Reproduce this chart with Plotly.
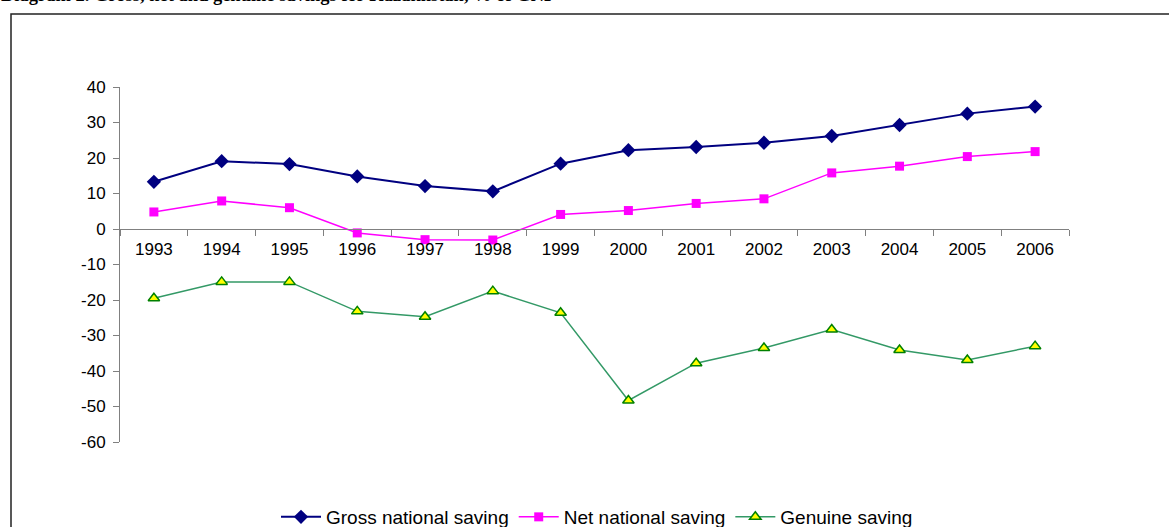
import plotly.graph_objects as go

years = ["1993", "1994", "1995", "1996", "1997", "1998", "1999", "2000",
         "2001", "2002", "2003", "2004", "2005", "2006"]
gross = [13.3, 19.1, 18.3, 14.8, 12.1, 10.6, 18.4, 22.2, 23.1, 24.3, 26.2, 29.3, 32.5, 34.5]
net = [4.8, 7.9, 6.0, -1.1, -3.0, -3.1, 4.1, 5.2, 7.2, 8.5, 15.8, 17.7, 20.4, 21.8]
genuine = [-19.5, -14.9, -14.9, -23.2, -24.7, -17.5, -23.6, -48.3, -37.8, -33.5, -28.3, -34.1, -36.9, -33.0]
y_ticks = [40, 30, 20, 10, 0, -10, -20, -30, -40, -50, -60]
y_tick_labels = ["40", "30", "20", "10", "0", "-10", "-20", "-30", "-40", "-50", "-60"]

W, H = 1169, 527
ML, MR, MT, MB = 120, 100, 87, 85
pw, ph = W - ML - MR, H - MT - MB

def px_x(p):
    return (p - ML) / pw

def px_y(p):
    return (H - MB - p) / ph

fig = go.Figure()
fig.add_trace(go.Scatter(
    x=years, y=gross, name="Gross national saving", mode="lines+markers",
    line=dict(color="#000080", width=2),
    marker=dict(symbol="diamond", size=11, color="#000080")))
fig.add_trace(go.Scatter(
    x=years, y=net, name="Net national saving", mode="lines+markers",
    line=dict(color="#FF00FF", width=1.5),
    marker=dict(symbol="square", size=9, color="#FF00FF")))
fig.add_trace(go.Scatter(
    x=years, y=genuine, name="Genuine saving", mode="lines+markers",
    line=dict(color="#339966", width=1.5),
    marker=dict(symbol="triangle-up", size=10, color="#FFFF00",
                line=dict(color="#008000", width=1.5))))

fig.update_layout(
    width=W, height=H,
    margin=dict(l=ML, r=MR, t=MT, b=MB, autoexpand=False),
    paper_bgcolor="white", plot_bgcolor="white",
    font=dict(family="Liberation Sans, Arial", size=15, color="black"),
    showlegend=True,
    legend=dict(orientation="h", x=px_x(597), xanchor="center",
                y=px_y(517), yanchor="middle", font=dict(size=19),
                itemwidth=40, tracegroupgap=0),
    xaxis=dict(type="category", range=[-0.5, 13.5], anchor="free",
               position=0.6, showline=True, linecolor="#808080", linewidth=1,
               ticks="outside", tickson="boundaries", ticklen=6,
               tickcolor="#808080", showgrid=False, zeroline=False,
               ticklabelstandoff=5, tickfont=dict(size=17)),
    yaxis=dict(range=[-60, 40], tickvals=y_ticks, ticktext=y_tick_labels,
               showline=True, linecolor="#808080", linewidth=1,
               ticks="outside", ticklen=6, ticklabelstandoff=4,
               tickcolor="#808080", showgrid=False, zeroline=False,
               tickfont=dict(size=17)),
    shapes=[dict(type="rect", xref="paper", yref="paper",
                 x0=px_x(11), x1=px_x(1180), y0=px_y(540), y1=px_y(14),
                 line=dict(color="#222222", width=1.5), fillcolor="rgba(0,0,0,0)")],
    annotations=[dict(text="<b>Diagram 2. Gross, net and genuine savings for Kazakhstan, % of GNP</b>",
                      xref="paper", yref="paper", x=px_x(-1), xanchor="left",
                      y=px_y(-5), yanchor="middle", showarrow=False,
                      font=dict(family="Liberation Serif, Times New Roman", size=18.5, color="black"))],
)

fig.write_html("out.html")
